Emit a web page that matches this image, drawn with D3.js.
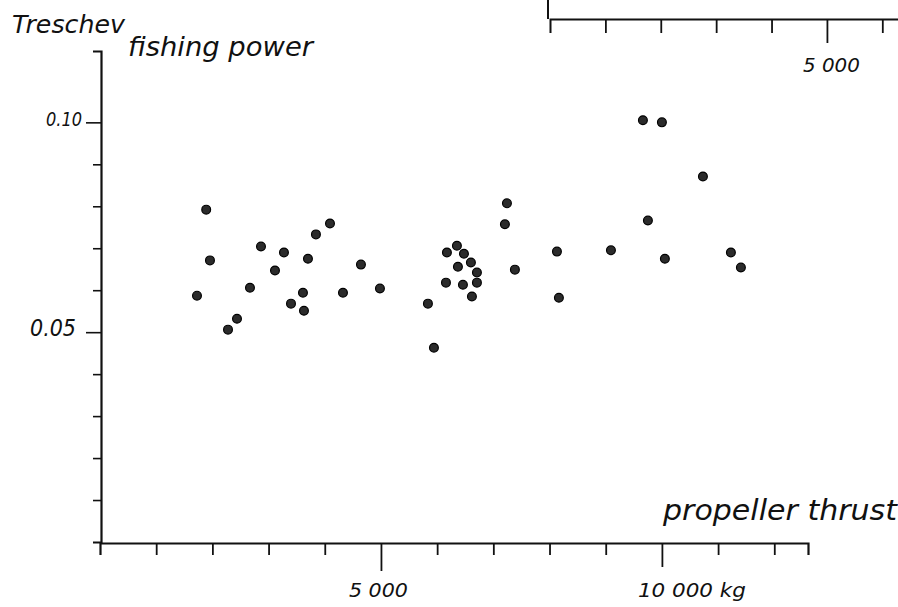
<!DOCTYPE html>
<html>
<head>
<meta charset="utf-8">
<script src="https://cdn.jsdelivr.net/npm/d3@7"></script>
<style>
  html, body { margin: 0; padding: 0; background: #fff; }
  svg { display: block; }
  text { font-family: "DejaVu Sans", "Liberation Sans", sans-serif; font-style: italic; fill: #111; }
</style>
</head>
<body>
<svg id="chart" width="898" height="607"></svg>
<script>
// ---- data ----
const thrustKg = [1890, 1957, 1726, 2865, 3274, 3114, 2669, 2438, 2278, 3843,
                  4093, 3701, 3612, 3399, 3630, 4324, 4644, 4982, 5836, 5943,
                  6174, 6157, 6352, 6477, 6601, 6370, 6708, 6459, 6708, 6619,
                  7384, 7242, 7206, 8132, 8167, 9093, 9751, 10053, 9662, 10000,
                  10730, 11228, 11406];
const fishingPower = [0.0792, 0.0671, 0.0587, 0.0704, 0.0690, 0.0647, 0.0606, 0.0532, 0.0506, 0.0733,
                      0.0759, 0.0675, 0.0594, 0.0568, 0.0551, 0.0594, 0.0661, 0.0604, 0.0568, 0.0463,
                      0.0690, 0.0618, 0.0706, 0.0687, 0.0666, 0.0656, 0.0642, 0.0613, 0.0618, 0.0585,
                      0.0649, 0.0807, 0.0757, 0.0692, 0.0582, 0.0695, 0.0766, 0.0675, 0.1005, 0.1000,
                      0.0871, 0.0690, 0.0654];
const yTicks = [0.01, 0.02, 0.03, 0.04, 0.05, 0.06, 0.07, 0.08, 0.09, 0.10];
const yTickLabels = ["0.10", "0.05"];
const xTicks = [1000, 2000, 3000, 4000, 5000, 6000, 7000, 8000, 9000, 10000, 11000, 12000];
const xTickLabels = ["5 000", "10 000  kg"];
const insetTicks = [1000, 2000, 3000, 4000, 5000, 6000];
const insetTickLabels = ["5 000"];

const svg = d3.select("#chart");

// ---- scales ----
const x = d3.scaleLinear().domain([0, 12600]).range([100, 808]);
const y = d3.scaleLinear().domain([0, 0.117]).range([542, 51]);
const xi = d3.scaleLinear().domain([0, 6500]).range([550, 910]);

// ---- y axis ----
const gy = svg.append("g").attr("transform", "translate(101,0)")
  .call(d3.axisLeft(y).tickValues(yTicks).tickSizeOuter(0).tickSize(8).tickFormat(""));
gy.select(".domain").attr("stroke", "#111").attr("stroke-width", 2.2);
gy.selectAll(".tick line").attr("stroke", "#111").attr("stroke-width", 1.6)
  .attr("x2", d => (d === 0.10 || d === 0.05) ? -15 : -8);

// y tick labels
const yLab = [
  {v: 0.10, t: yTickLabels[0], size: 20, right: 82, len: 36},
  {v: 0.05, t: yTickLabels[1], size: 23, right: 76, len: 46}
];
svg.selectAll("text.ylab").data(yLab).join("text")
  .attr("class", "ylab")
  .attr("x", d => d.right).attr("y", d => y(d.v) + 4)
  .attr("text-anchor", "end")
  .attr("font-size", d => d.size)
  .attr("textLength", d => d.len).attr("lengthAdjust", "spacingAndGlyphs")
  .text(d => d.t);

// ---- x axis ----
const gx = svg.append("g").attr("transform", "translate(0,543)")
  .call(d3.axisBottom(x).tickValues(xTicks).tickSizeOuter(0).tickSize(12).tickFormat(""));
gx.select(".domain").attr("stroke", "#111").attr("stroke-width", 2.2);
gx.selectAll(".tick line").attr("stroke", "#111").attr("stroke-width", 1.8)
  .attr("y2", d => d === 5000 ? 28 : (d === 10000 ? 24 : 12));

svg.append("text").attr("x", x(5000) - 32).attr("y", 597)
  .attr("font-size", 20).attr("textLength", 59).attr("lengthAdjust", "spacingAndGlyphs")
  .text(xTickLabels[0]);
svg.append("text").attr("x", x(10000) - 24).attr("y", 597)
  .attr("font-size", 20).attr("textLength", 108).attr("lengthAdjust", "spacingAndGlyphs")
  .text(xTickLabels[1]);

// ---- inset axis fragment at top right ----
svg.append("line").attr("x1", 548).attr("x2", 548).attr("y1", 0).attr("y2", 19)
  .attr("stroke", "#111").attr("stroke-width", 2);
const gi = svg.append("g").attr("transform", "translate(0,19)")
  .call(d3.axisBottom(xi).tickValues(insetTicks).tickSizeOuter(0).tickSize(14).tickFormat(""));
gi.select(".domain").attr("stroke", "#111").attr("stroke-width", 2);
gi.selectAll(".tick line").attr("stroke", "#111").attr("stroke-width", 1.8)
  .attr("y2", d => d === 5000 ? 24 : 14);
svg.append("text").attr("x", xi(5000) - 24).attr("y", 72)
  .attr("font-size", 20).attr("textLength", 57).attr("lengthAdjust", "spacingAndGlyphs")
  .text(insetTickLabels[0]);

// ---- titles ----
svg.append("text").attr("x", 12).attr("y", 33).attr("font-size", 25)
  .attr("textLength", 113).attr("lengthAdjust", "spacingAndGlyphs").text("Treschev");
svg.append("text").attr("x", 128).attr("y", 56).attr("font-size", 27)
  .attr("textLength", 185).attr("lengthAdjust", "spacingAndGlyphs").text("fishing power");
svg.append("text").attr("x", 663).attr("y", 520).attr("font-size", 28)
  .attr("textLength", 234).attr("lengthAdjust", "spacingAndGlyphs").text("propeller thrust");

// ---- points ----
const pts = thrustKg.map((v, i) => ({x: v, y: fishingPower[i]}));
svg.append("g").selectAll("circle").data(pts).join("circle")
  .attr("cx", d => x(d.x)).attr("cy", d => y(d.y))
  .attr("r", 4.4)
  .attr("fill", "#2b2b2b").attr("stroke", "#000").attr("stroke-width", 1.2);
</script>
</body>
</html>
